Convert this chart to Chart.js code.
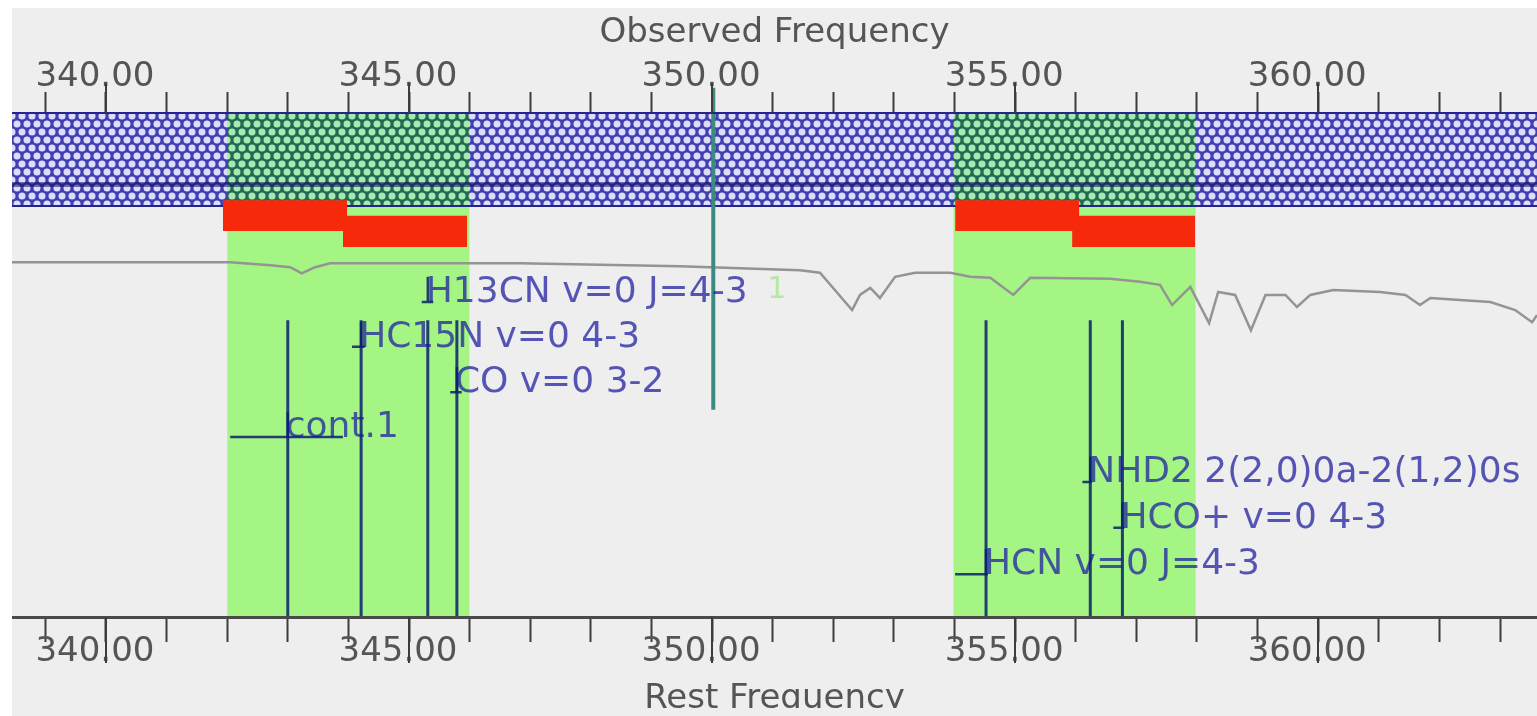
<!DOCTYPE html>
<html>
<head>
<meta charset="utf-8">
<title>Spectral setup</title>
<script src="https://cdn.jsdelivr.net/npm/chart.js@4.4.1/dist/chart.umd.min.js"></script>
<style>
  html, body { margin: 0; padding: 0; background: #ffffff; overflow: hidden; }
  #panel { position: absolute; left: 12px; top: 8px; width: 1525px; height: 708px; background: #eeeeee; }
  #panel canvas { display: block; }
</style>
</head>
<body>
<div id="panel"><canvas id="setup" width="1525" height="700"></canvas></div>
<script>
// --- data (GHz) ---
const freqMin = 338.45;
const freqMax = 363.61;

// spectral windows (green) and basebands (red, two staggered rows)
const windowStart = [342.0, 353.98];
const windowEnd = [346.0, 357.98];
const basebandStart = [341.93, 343.91, 354.01, 355.94];
const basebandEnd = [343.98, 345.96, 356.06, 357.97];
const basebandRow = [0, 1, 0, 1];

const loFreq = 350.02;

// catalogue lines
const lineNames = ['cont.1', 'HC15N v=0 4-3', 'H13CN v=0 J=4-3', 'CO v=0 3-2',
                   'HCN v=0 J=4-3', 'NHD2 2(2,0)0a-2(1,2)0s', 'HCO+ v=0 4-3'];
const lineFreqs = [343.0, 344.21, 345.31, 345.79, 354.52, 356.24, 356.77];
const markFrom = [342.05, 344.06, 345.21, 345.68, 354.01, 356.11, 356.62];
const markTo = [343.91, 344.27, 345.40, 345.87, 354.55, 356.27, 356.80];

// atmospheric transmission trace (display units, 0 = bottom axis, 100 = top axis)
const atmFreq = [338.45, 342.05, 342.71, 343.04, 343.23, 343.45, 343.70, 346.83, 349.47, 350.46,
                 351.45, 351.78, 352.31, 352.44, 352.61, 352.77, 353.02, 353.35, 353.93, 354.26,
                 354.59, 354.97, 355.25, 356.57, 357.06, 357.39, 357.59, 357.89, 358.20, 358.35,
                 358.63, 358.89, 359.13, 359.46, 359.65, 359.87, 360.25, 361.02, 361.44, 361.68,
                 361.85, 362.34, 362.84, 363.25, 363.53, 363.61];
const atmLevel = [70.4, 70.4, 69.8, 69.4, 68.2, 69.4, 70.2, 70.2, 69.6, 69.2,
                  68.8, 68.3, 60.9, 63.9, 65.3, 63.3, 67.5, 68.3, 68.3, 67.5,
                  67.3, 63.9, 67.3, 67.1, 66.5, 65.9, 61.9, 65.5, 58.3, 64.5,
                  63.9, 56.9, 63.9, 63.9, 61.5, 63.9, 64.9, 64.5, 63.9, 61.9,
                  63.3, 62.9, 62.5, 60.9, 58.5, 59.9];

// --- layout (display units) ---
const L = {
    bandTop: 100, bandBottom: 81.35, darkRow: [85.3, 86.3],
    windowTop: 82.7,
    bbRows: [[76.6, 82.7], [73.4, 79.6]],
    lineTop: 58.9,
    lo: [41.1, 105],
    labelLevel: [35.7, 53.6, 62.5, 44.6, 8.5, 26.8, 17.7],
    sideLabel: { text: '1', freq: 350.91, level: 63.3 }
};

const NAVY = 'rgba(10,30,110,0.85)';

function hatch(bg, dot) {
    const t = document.createElement('canvas');
    t.width = 10; t.height = 16;
    const g = t.getContext('2d');
    g.fillStyle = bg; g.fillRect(0, 0, 10, 16);
    g.fillStyle = dot;
    [[5, 4], [0, 12], [10, 12]].forEach(([x, y]) => {
        g.beginPath(); g.arc(x, y, 3.5, 0, Math.PI * 2); g.fill();
    });
    return g.createPattern(t, 'repeat');
}

// rectangle as a filled line segment (fill down to a value)
function rect(x0, x1, y0, y1, fill, order) {
    return {
        data: [{ x: x0, y: y1 }, { x: x1, y: y1 }],
        fill: { value: y0 },
        backgroundColor: fill,
        borderColor: 'rgba(0,0,0,0)',
        borderWidth: 0,
        order
    };
}

function segments(pairs, color, width, order) {
    const pts = [];
    pairs.forEach(([a, b]) => pts.push(a, b, { x: b.x, y: null }));
    return { data: pts, borderColor: color, borderWidth: width, fill: false, spanGaps: false, order };
}

const datasets = [];
const blueHatch = hatch('#4040b0', '#dcdcfd');
const greenHatch = hatch('#226a55', '#a6eab0');

windowStart.forEach((s, i) => datasets.push(rect(s, windowEnd[i], 0, L.windowTop, '#a5f585', 30)));
datasets.push(rect(freqMin, freqMax, L.bandBottom, L.bandTop, blueHatch, 29));
windowStart.forEach((s, i) => datasets.push(rect(s, windowEnd[i], L.bandBottom, L.bandTop, greenHatch, 28)));
datasets.push(rect(freqMin, freqMax, L.darkRow[0], L.darkRow[1], 'rgba(15,15,100,0.55)', 27));
datasets.push(segments([[{ x: freqMin, y: L.bandBottom + 0.2 }, { x: freqMax, y: L.bandBottom + 0.2 }]], '#24248c', 2, 26));
basebandStart.forEach((s, i) => {
    const r = L.bbRows[basebandRow[i]];
    datasets.push(rect(s, basebandEnd[i], r[0], r[1], '#f62a0a', 25));
});

// atmosphere
datasets.push({
    data: atmFreq.map((f, i) => ({ x: f, y: atmLevel[i] })),
    borderColor: '#949494', borderWidth: 2.5, fill: false, order: 20
});

// label base marks
const marks = [];
lineFreqs.forEach((f, i) => {
    const lv = L.labelLevel[i];
    marks.push([{ x: markFrom[i], y: lv }, { x: markTo[i], y: lv }]);
    marks.push([{ x: f, y: lv }, { x: f, y: lv + 5 }]);
});
datasets.push(segments(marks, NAVY, 2.5, 15));

// line sticks
datasets.push(segments(lineFreqs.map(f => [{ x: f, y: 0 }, { x: f, y: L.lineTop }]), NAVY, 3, 14));

// LO marker
datasets.push(Object.assign(segments([[{ x: loFreq, y: L.lo[0] }, { x: loFreq, y: L.lo[1] }]], '#3d8a80', 4, 10), { clip: false }));

// longer major ticks
const majorTicks = {
    id: 'majorTicks',
    afterDraw(chart) {
        const c = chart.ctx;
        c.save();
        c.strokeStyle = '#3c3c3c';
        c.lineWidth = 2;
        [['x2', -1, 30], ['x', 1, 46]].forEach(([id, dir, len]) => {
            const s = chart.scales[id];
            const y0 = id === 'x' ? s.top : s.bottom;
            s.ticks.forEach(t => {
                if (Math.round(t.value) % 5 !== 0) return;
                const px = Math.round(s.getPixelForValue(t.value));
                c.beginPath(); c.moveTo(px, y0); c.lineTo(px, y0 + dir * len); c.stroke();
            });
        });
        c.restore();
    }
};

const lineLabels = {
    id: 'lineLabels',
    afterDatasetsDraw(chart) {
        const { ctx, scales: { x, y } } = chart;
        ctx.save();
        ctx.textBaseline = 'alphabetic';
        ctx.textAlign = 'left';
        ctx.font = '36px "DejaVu Sans"';
        ctx.fillStyle = 'rgba(25,25,160,0.72)';
        lineNames.forEach((name, i) => {
            ctx.fillText(name, x.getPixelForValue(lineFreqs[i]) - 2, y.getPixelForValue(L.labelLevel[i]));
        });
        ctx.font = '30px "DejaVu Sans"';
        ctx.fillStyle = '#b4e8a6';
        ctx.fillText(L.sideLabel.text, x.getPixelForValue(L.sideLabel.freq), y.getPixelForValue(L.sideLabel.level));
        ctx.restore();
    }
};

function intTicks(scale) {
    const t = [];
    for (let v = Math.ceil(scale.min); v <= Math.floor(scale.max); v++) t.push({ value: v });
    scale.ticks = t;
}

function freqAxis(position, title, tickPad, titlePad, height) {
    return {
        type: 'linear',
        position,
        min: freqMin,
        max: freqMax,
        offset: false,
        afterBuildTicks: intTicks,
        afterFit: s => { s.height = height; },
        grid: { drawOnChartArea: false, tickLength: position === 'top' ? 21 : 25, tickWidth: 2, tickColor: '#3c3c3c' },
        border: position === 'top' ? { color: '#24248c', width: 2, z: 1 } : { color: '#4a4a4a', width: 3, z: 1 },
        ticks: {
            autoSkip: false, maxRotation: 0, padding: tickPad, labelOffset: -11,
            color: '#555555', font: { size: 34 },
            callback: v => (Math.round(v) % 5 === 0 ? v.toFixed(2) : '')
        },
        title: { display: true, text: title, color: '#555555', font: { size: 34 }, padding: titlePad }
    };
}

Chart.defaults.font.family = '"DejaVu Sans", sans-serif';

new Chart(document.getElementById('setup'), {
    type: 'line',
    data: { datasets },
    plugins: [majorTicks, lineLabels],
    options: {
        responsive: false,
        animation: false,
        parsing: true,
        layout: { padding: 0 },
        elements: { point: { radius: 0, hoverRadius: 0 }, line: { tension: 0 } },
        plugins: { legend: { display: false }, tooltip: { enabled: false } },
        scales: {
            x: freqAxis('bottom', 'Rest Frequency', -10, { top: 0, bottom: -12 }, 91),
            x2: freqAxis('top', 'Observed Frequency', -6, { top: 5, bottom: 0 }, 105),
            y: { type: 'linear', display: false, min: 0, max: 100 }
        }
    }
});
</script>
</body>
</html>
